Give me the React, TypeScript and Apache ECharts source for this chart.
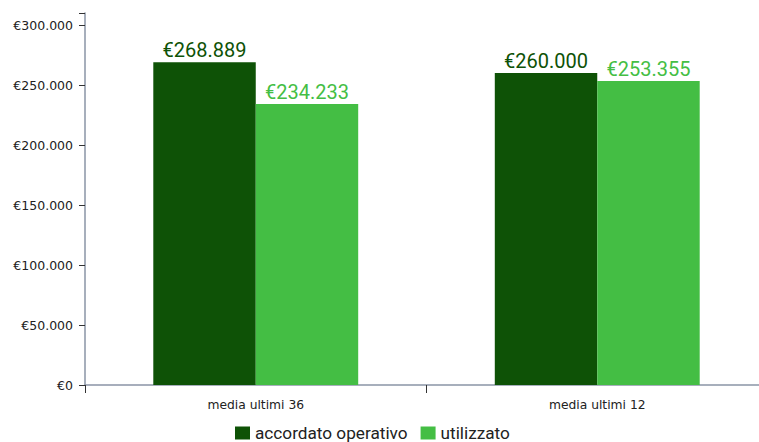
import React, { useEffect, useRef } from "react";
import * as echarts from "echarts";

const categories = ["media ultimi 36", "media ultimi 12"];
const accordato = [268889, 260000];
const utilizzato = [234233, 253355];
const yTicks = [0, 50000, 100000, 150000, 200000, 250000, 300000];
const yMax = 310000;

const fmt = (v: number) => "€" + String(Math.round(v)).replace(/\B(?=(\d{3})+(?!\d))/g, ".");

export default function App() {
  const ref = useRef<HTMLDivElement>(null);
  useEffect(() => {
    const chart = echarts.init(ref.current!, null, { renderer: "svg" });
    const axisColor = "#8a94a6";
    const dark = "#0e5206";
    const light = "#44be44";
    chart.setOption({
      animation: false,
      grid: { left: 85, top: 13, bottom: 57, right: -9, containLabel: false, outerBoundsMode: "none" },
      legend: {
        top: 424,
        left: 235,
        padding: 0,
        itemWidth: 15,
        itemHeight: 13,
        itemGap: 13,
        icon: "rect",
        textStyle: { fontFamily: "Roboto", fontSize: 17.2, lineHeight: 18, color: "#222" },
        data: ["accordato operativo", "utilizzato"],
      },
      xAxis: {
        type: "category",
        data: categories,
        axisLine: { lineStyle: { color: axisColor, width: 1.5 } },
        axisTick: { show: true, length: 8, interval: 0, lineStyle: { color: "#333" } },
        axisLabel: { margin: 14, fontFamily: "DejaVu Sans", fontSize: 12.3, color: "#222" },
      },
      yAxis: {
        type: "value",
        min: 0,
        max: yMax,
        interval: 50000,
        splitLine: { show: false },
        axisLine: { show: true, lineStyle: { color: axisColor, width: 1.5 } },
        axisTick: { show: true, length: 6, customValues: [...yTicks, yMax], lineStyle: { color: "#333" } },
        axisLabel: {
          customValues: yTicks,
          margin: 12,
          fontFamily: "DejaVu Sans",
          fontSize: 12.5,
          color: "#222",
          formatter: (v: number) => fmt(v),
        },
      },
      series: [
        {
          name: "accordato operativo",
          type: "bar",
          data: accordato,
          barGap: "0%",
          barCategoryGap: "40%",
          itemStyle: { color: dark },
          label: {
            show: true,
            position: "top",
            distance: 2,
            fontFamily: "Roboto",
            fontSize: 20,
            color: dark,
            formatter: (p: any) => fmt(p.value),
          },
        },
        {
          name: "utilizzato",
          type: "bar",
          data: utilizzato,
          itemStyle: { color: light },
          label: {
            show: true,
            position: "top",
            distance: 2,
            fontFamily: "Roboto",
            fontSize: 20,
            color: light,
            formatter: (p: any) => fmt(p.value),
          },
        },
      ],
    });
    return () => chart.dispose();
  }, []);
  return <div ref={ref} style={{ width: 759, height: 442, position: "absolute", left: 0, top: 0 }} />;
}
